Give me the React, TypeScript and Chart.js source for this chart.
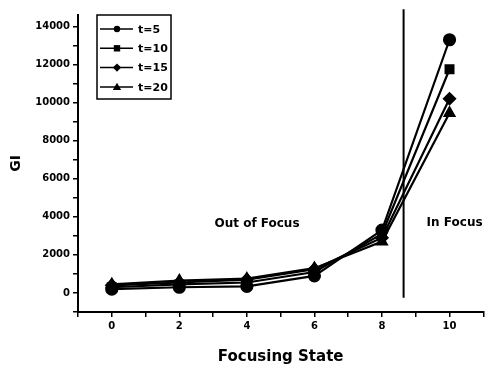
import React, { useEffect, useRef } from "react";
import { Chart, registerables } from "chart.js";

Chart.register(...registerables);

const focusStates = [0, 2, 4, 6, 8, 10];
const t5 = [200, 300, 350, 900, 3300, 13300];
const t10 = [300, 450, 550, 1100, 3100, 11750];
const t15 = [400, 550, 700, 1250, 2900, 10200];
const t20 = [450, 650, 750, 1300, 2700, 9450];
const seriesLabels = ["t=5", "t=10", "t=15", "t=20"];
const pointStyles = ["circle", "rect", "rectRot", "triangle"];
const xTickValues = [-1, 0, 1, 2, 3, 4, 5, 6, 7, 8, 9, 10, 11];
const yTickValues = [-1000, 0, 1000, 2000, 3000, 4000, 5000, 6000, 7000, 8000, 9000, 10000, 11000, 12000, 13000, 14000];
const dividerX = 8.64;
const dividerTop = 14900;
const dividerBottom = -250;
const regionLabels = [
  { text: "Out of Focus", x: 4.3, y: 3650 },
  { text: "In Focus", x: 10.15, y: 3700 },
];

const FONT = "'DejaVu Sans', 'Liberation Sans', Arial, sans-serif";

export default function App() {
  const ref = useRef<HTMLCanvasElement>(null);
  useEffect(() => {
    const all = [t5, t10, t15, t20];
    function drawMarker(ctx: any, style: string, x: number, y: number, r: number) {
      ctx.beginPath();
      if (style === "circle") ctx.arc(x, y, r, 0, Math.PI * 2);
      else if (style === "rect") ctx.rect(x - r, y - r, 2 * r, 2 * r);
      else if (style === "rectRot") {
        ctx.moveTo(x, y - r * 1.3);
        ctx.lineTo(x + r * 1.3, y);
        ctx.lineTo(x, y + r * 1.3);
        ctx.lineTo(x - r * 1.3, y);
        ctx.closePath();
      } else {
        ctx.moveTo(x, y - r * 1.3);
        ctx.lineTo(x + r * 1.3, y + r);
        ctx.lineTo(x - r * 1.3, y + r);
        ctx.closePath();
      }
      ctx.fill();
    }
    const overlay = {
      id: "overlay",
      afterDatasetsDraw(chart: any) {
        const ctx = chart.ctx;
        const xs = chart.scales.x;
        const ys = chart.scales.y;
        ctx.save();
        ctx.strokeStyle = "#000";
        ctx.lineWidth = 2;
        ctx.beginPath();
        const dx = xs.getPixelForValue(dividerX);
        ctx.moveTo(dx, ys.getPixelForValue(dividerTop));
        ctx.lineTo(dx, ys.getPixelForValue(dividerBottom));
        ctx.stroke();
        ctx.fillStyle = "#000";
        ctx.font = "bold 12px " + FONT;
        ctx.textAlign = "center";
        ctx.textBaseline = "middle";
        regionLabels.forEach((r) => {
          ctx.fillText(r.text, xs.getPixelForValue(r.x), ys.getPixelForValue(r.y));
        });
        const ca = chart.chartArea;
        const bx = ca.left + 19;
        const by = ca.top;
        ctx.lineWidth = 1.5;
        ctx.strokeRect(bx, by, 74, 84);
        ctx.font = "bold 11px " + FONT;
        ctx.textAlign = "left";
        chart.data.datasets.forEach((ds: any, i: number) => {
          const yy = by + 14 + i * 19.3;
          ctx.lineWidth = 1.5;
          ctx.beginPath();
          ctx.moveTo(bx + 3, yy);
          ctx.lineTo(bx + 36, yy);
          ctx.stroke();
          drawMarker(ctx, ds.pointStyle, bx + 20, yy, 3.2);
          ctx.fillText(ds.label, bx + 41, yy + 1);
        });
        ctx.restore();
      },
    };
    const chart = new Chart(ref.current!, {
      type: "line",
      data: {
        datasets: all.map((vals, i) => ({
          label: seriesLabels[i],
          data: focusStates.map((x, j) => ({ x, y: vals[j] })),
          borderColor: "#000",
          backgroundColor: "#000",
          borderWidth: 2.2,
          pointStyle: pointStyles[i] as any,
          pointRadius: 5.5,
          pointBackgroundColor: "#000",
          pointBorderColor: "#000",
          fill: false,
          tension: 0,
        })),
      },
      options: {
        animation: false,
        responsive: false,
        layout: { padding: { top: 15, right: 0, left: 0, bottom: 0 } },
        plugins: { legend: { display: false }, tooltip: { enabled: false } },
        scales: {
          x: {
            type: "linear",
            min: -1,
            max: 11,
            afterBuildTicks: (s: any) => {
              s.ticks = xTickValues.map((v) => ({ value: v }));
            },
            afterFit: (s: any) => {
              s.height = 54;
            },
            border: { color: "#000", width: 2 },
            grid: { drawOnChartArea: false, color: "#000", lineWidth: 1.5, tickLength: 5 },
            ticks: {
              autoSkip: false,
              maxRotation: 0,
              color: "#000",
              padding: 3,
              font: { family: FONT, weight: "bold", size: 10 },
              callback: (v: any) => (v >= 0 && v % 2 === 0 ? String(v) : ""),
            },
            title: {
              display: true,
              text: "Focusing State",
              color: "#000",
              font: { family: FONT, weight: "bold", size: 15 },
              padding: { top: 5, bottom: 0 },
            },
          },
          y: {
            type: "linear",
            min: -1000,
            max: 14600,
            afterBuildTicks: (s: any) => {
              s.ticks = yTickValues.map((v) => ({ value: v }));
            },
            afterFit: (s: any) => {
              s.width = 78;
            },
            border: { color: "#000", width: 2 },
            grid: { drawOnChartArea: false, color: "#000", lineWidth: 1.5, tickLength: 5 },
            ticks: {
              autoSkip: false,
              color: "#000",
              padding: 3,
              font: { family: FONT, weight: "bold", size: 10 },
              callback: (v: any) => (v >= 0 && v % 2000 === 0 ? String(v) : ""),
            },
            title: {
              display: true,
              text: "GI",
              color: "#000",
              font: { family: FONT, weight: "bold", size: 14 },
              padding: { top: 8, bottom: 0 },
            },
          },
        },
      },
      plugins: [overlay],
    } as any);
    return () => chart.destroy();
  }, []);
  return (
    <div style={{ position: "fixed", left: 0, top: 0, width: 491, height: 366, background: "#fff" }}>
      <canvas ref={ref} width={491} height={366} style={{ width: 491, height: 366 }} />
    </div>
  );
}
